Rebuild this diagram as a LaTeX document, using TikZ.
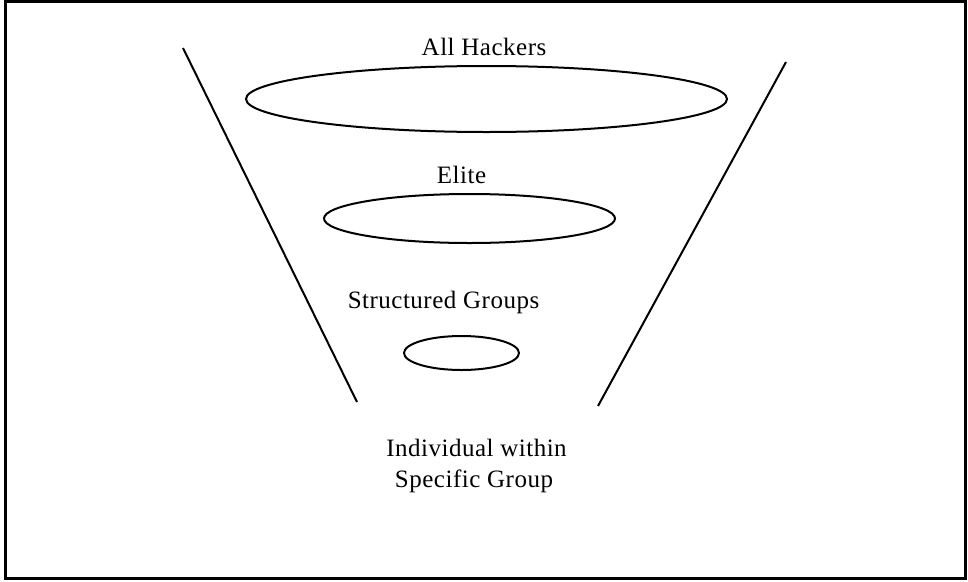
\documentclass[tikz,border=0pt]{standalone}
\usepackage{fontspec}
\setmainfont[LetterSpace=2]{Liberation Serif}
\begin{document}
\begin{tikzpicture}[x=1pt,y=-1pt,
  ring/.style={draw,line width=2pt},
  side/.style={draw,line width=2pt},
  lbl/.style={font=\fontsize{25}{31}\selectfont,inner sep=0pt,anchor=base}]
\useasboundingbox (0,0) rectangle (968,581);
\draw[line width=3.5pt] (5.5,1.5) rectangle (965.5,578.5);
\coordinate (l1) at (183,48);
\coordinate (l2) at (357,402);
\coordinate (r1) at (786,62);
\coordinate (r2) at (598,406);
\draw[side] (l1) -- (l2);
\draw[side] (r1) -- (r2);
\draw[ring] (486.5,99) ellipse [x radius=240.5, y radius=33];
\draw[ring] (469.5,218.5) ellipse [x radius=145.5, y radius=24.5];
\draw[ring] (461.5,353) ellipse [x radius=57.5, y radius=17];
\node[lbl] (t1) at (484,55) {All Hackers};
\node[lbl] (t2) at (461.5,183) {Elite};
\node[lbl] (t3) at (443.5,308) {Structured Groups};
\node[lbl] (t4) at (476.5,456) {Individual within};
\node[lbl] (t5) at (474,487) {Specific Group};
\end{tikzpicture}
\end{document}
